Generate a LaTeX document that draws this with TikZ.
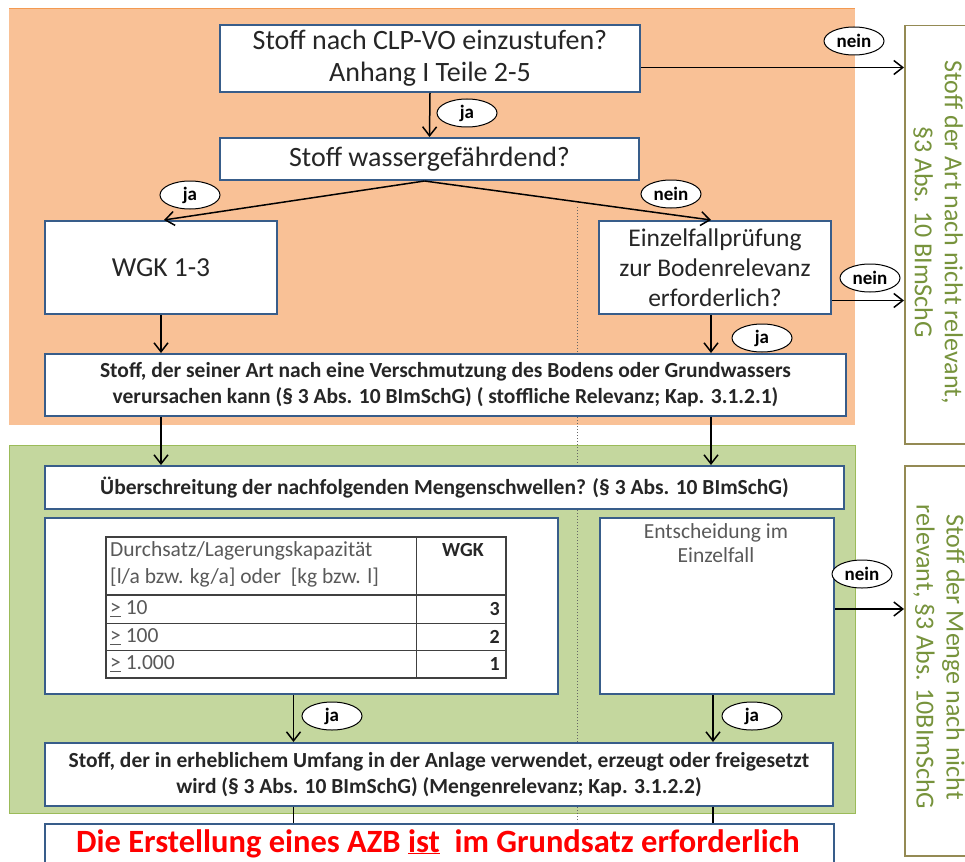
\documentclass[tikz,border=0pt]{standalone}
\usepackage{fontspec}
\setmainfont{Carlito}
\usetikzlibrary{arrows.meta,shapes.geometric,calc}
\definecolor{orfill}{HTML}{F9C196}
\definecolor{ordraw}{HTML}{F39A52}
\definecolor{grfill}{HTML}{C4D79E}
\definecolor{grdraw}{HTML}{9BBB59}
\definecolor{bxdraw}{HTML}{385D8A}
\definecolor{oldraw}{HTML}{948A54}
\definecolor{grtext}{HTML}{77933C}
\definecolor{txt}{HTML}{262626}
\definecolor{gtxt}{HTML}{595959}
\begin{document}
\begin{tikzpicture}[x=1pt,y=-1pt,
  box/.style={draw=bxdraw, line width=2pt, fill=white, anchor=north west, inner sep=2pt, align=center, text=txt},
  rbox/.style={draw=oldraw, line width=1.5pt, fill=white, anchor=north west},
  rtext/.style={text=grtext, align=center, font=\fontsize{26}{30}\selectfont, rotate=-90},
  arr/.style={-{Straight Barb[length=9pt,width=14pt,line width=1.5pt]}, line width=1.5pt},
  plain/.style={line width=1.5pt},
  lab/.style={ellipse, draw, fill=white, line width=1pt, font=\fontsize{19}{19}\selectfont\bfseries, inner sep=0pt, minimum width=60pt, minimum height=28pt},
  ttxt/.style={anchor=west, text=gtxt, font=\fontsize{21.5}{21.5}\selectfont, inner sep=0pt},
  tnum/.style={anchor=east, text=txt, font=\fontsize{20}{20}\selectfont\bfseries, inner sep=0pt},
  tline/.style={draw=black!75, line width=1pt}
]
\useasboundingbox (0,0) rectangle (965,861);
% backgrounds
\fill[orfill] (9,9) rectangle (855,425);
\draw[ordraw, line width=1pt] (9,9) -- (855,9);
\fill[grfill] (9,445) rectangle (855,813);
\draw[grdraw, line width=1pt] (9,445) rectangle (855,813);
% dotted separator
\coordinate (dtop) at (577,207);
\coordinate (dbot) at (577,822);
\draw[dotted, line width=1pt, black!60] (dtop) -- (dbot);
% right boxes
\node[rbox, minimum width=90pt, minimum height=418pt] (R1) at (904,25) {};
\node[rbox, minimum width=90pt, minimum height=390pt] (R2) at (904,465) {};
\node[rtext] (R1t) at (938,232) {Stoff der Art nach nicht relevant,\\§3 Abs. 10 BImSchG};
\node[rtext] (R2t) at (939,657) {Stoff der Menge nach nicht\\relevant, §3 Abs. 10BImSchG};
% boxes
\node[box, minimum width=420pt, minimum height=67pt, font=\fontsize{28}{32}\selectfont] (B1) at (219,24) {Stoff nach CLP-VO einzustufen?\\Anhang I Teile 2-5};
\node[box, minimum width=419pt, minimum height=42pt, font=\fontsize{28}{30}\selectfont] (B2) at (219,137) {Stoff wassergefährdend?};
\node[box, minimum width=232pt, minimum height=93pt, font=\fontsize{27.5}{30}\selectfont] (WGK) at (44,220) {WGK 1-3};
\node[box, minimum width=232pt, minimum height=93pt, font=\fontsize{25.5}{30}\selectfont] (EF) at (598,220) {Einzelfallprüfung\\zur Bodenrelevanz\\erforderlich?};
\node[box, minimum width=801pt, minimum height=62pt, font=\fontsize{21.5}{26}\selectfont\bfseries] (ART) at (44,353) {Stoff, der seiner Art nach eine Verschmutzung des Bodens oder Grundwassers\\verursachen kann (§ 3 Abs. 10 BImSchG) ( stoffliche Relevanz; Kap. 3.1.2.1)};
\node[box, minimum width=799pt, minimum height=43pt, font=\fontsize{21.5}{24}\selectfont\bfseries] (UEB) at (44,465) {Überschreitung der nachfolgenden Mengenschwellen? (§ 3 Abs. 10 BImSchG)};
\node[box, minimum width=513pt, minimum height=176pt] (TAB) at (44,517) {};
\node[box, minimum width=234pt, minimum height=176pt] (ENT) at (599,517) {};
\node[text=gtxt, align=center, font=\fontsize{21.5}{24}\selectfont, anchor=north] (ENTt) at (716,520) {Entscheidung im\\Einzelfall};
\node[box, minimum width=788pt, minimum height=63pt, font=\fontsize{21.5}{26}\selectfont\bfseries] (MNG) at (44,742) {Stoff, der in erheblichem Umfang in der Anlage verwendet, erzeugt oder freigesetzt\\wird (§ 3 Abs. 10 BImSchG) (Mengenrelevanz; Kap. 3.1.2.2)};
\node[box, minimum width=789pt, minimum height=60pt, anchor=north west] (FIN) at (44,823) {};
\node[text=red, font=\fontsize{32.5}{34}\selectfont\bfseries, anchor=base] (FINt) at (438,852) {Die Erstellung eines AZB \underline{ist}\ \ im Grundsatz erforderlich};
% table
\coordinate (t1) at (106,537);
\coordinate (t2) at (506,678);
\draw[tline, line width=1.3pt] (t1) rectangle (t2);
\draw[tline] (416,537) -- (416,678);
\draw[tline, line width=1.3pt] (106,595) -- (506,595);
\draw[tline] (106,623) -- (506,623);
\draw[tline] (106,650) -- (506,650);
\node[ttxt] (h1) at (110,551) {Durchsatz/Lagerungskapazität};
\node[ttxt] (h2) at (110,578) {[l/a bzw. kg/a] oder\ \ [kg bzw. l]};
\node[tnum, anchor=center] (hw) at (463,550) {WGK};
\node[ttxt] (r1) at (110,609) {\underline{>} 10};
\node[ttxt] (r2) at (110,637) {\underline{>} 100};
\node[ttxt] (r3) at (110,664) {\underline{>} 1.000};
\node[tnum] (v1) at (500,609) {3};
\node[tnum] (v2) at (500,637) {2};
\node[tnum] (v3) at (500,664) {1};
% connectors
\draw[arr] (B1.south) -- (B2.north);
\draw[arr] ([yshift=-9pt]B1.east) -- ([yshift=-9pt]B1.east -| R1.west);
\draw[arr] ([xshift=-5pt]B2.south) -- ([xshift=3pt]WGK.north);
\draw[arr] ([xshift=-5pt]B2.south) -- ([xshift=-4pt]EF.north);
\draw[arr] (WGK.south) -- (WGK.south |- ART.north);
\draw[arr] ([xshift=-4pt]EF.south) -- ([xshift=-4pt]EF.south |- ART.north);
\draw[arr] ([yshift=-33pt]EF.east) -- ([yshift=-33pt]EF.east -| R1.west);
\draw[arr] (WGK.south |- ART.south) -- (WGK.south |- UEB.north);
\draw[arr] ([xshift=-4pt]EF.south |- ART.south) -- ([xshift=-4pt]EF.south |- UEB.north);
\draw[arr] ([yshift=-3pt]ENT.east) -- ([yshift=-3pt]ENT.east -| R2.west);
\draw[arr] ([xshift=-8pt]TAB.south) -- ([xshift=-8pt]TAB.south |- MNG.north);
\draw[arr] ([xshift=-4pt]ENT.south) -- ([xshift=-4pt]ENT.south |- MNG.north);
\draw[plain] ([xshift=-8pt]TAB.south |- MNG.south) -- ([xshift=-8pt]TAB.south |- FIN.north);
\draw[plain] ([xshift=-4pt]ENT.south |- MNG.south) -- ([xshift=-4pt]ENT.south |- FIN.north);
% labels
\node[lab] (l1) at (467,113) {ja};
\node[lab] (l2) at (190,195) {ja};
\node[lab] (l3) at (762,338) {ja};
\node[lab] (l4) at (332,716) {ja};
\node[lab] (l5) at (752,716) {ja};
\node[lab] (n1) at (854,41) {nein};
\node[lab] (n2) at (671,194) {nein};
\node[lab] (n3) at (870,278) {nein};
\node[lab] (n4) at (862,574) {nein};
\end{tikzpicture}
\end{document}
